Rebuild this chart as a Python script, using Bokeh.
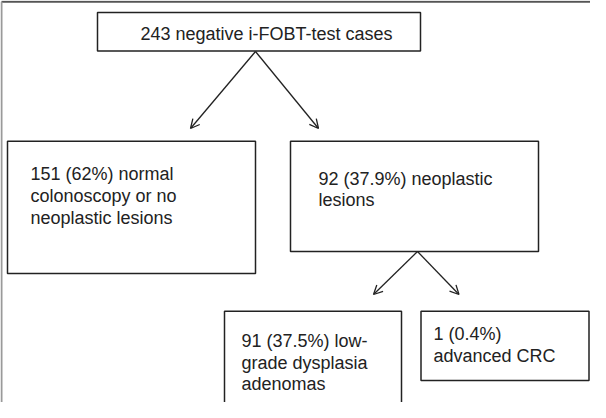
from bokeh.plotting import figure
from bokeh.models import Range1d, Arrow, OpenHead, ColumnDataSource
from bokeh.core.properties import value
from bokeh.embed import file_html
from bokeh.resources import INLINE

# ---- data (flowchart content) ----
node_ids = ["root", "normal", "neo", "low", "crc"]
node_counts = [243, 151, 92, 91, 1]
node_pcts = ["", "62%", "37.9%", "37.5%", "0.4%"]
node_lines = [
    ["243 negative i-FOBT-test cases"],
    ["151 (62%) normal", "colonoscopy or no", "neoplastic lesions"],
    ["92 (37.9%) neoplastic", "lesions"],
    ["91 (37.5%) low-", "grade dysplasia", "adenomas"],
    ["1 (0.4%)", "advanced CRC"],
]
edges = [("root", "normal"), ("root", "neo"), ("neo", "low"), ("neo", "crc")]

# ---- layout (page pixel coordinates, y downwards) ----
box_geom = {  # left, right, top, bottom
    "root": (105, 428, 20, 58.5),
    "normal": (15, 263, 148.7, 281),
    "neo": (298, 546, 148.7, 259),
    "low": (232, 409, 318.7, 440),
    "crc": (428.5, 596.5, 318.7, 388),
}
text_anchor = {
    "root": (148, 41),
    "normal": (38, 181.7),
    "neo": (326, 186),
    "low": (249, 348.5),
    "crc": (441, 341.5),
}
edge_geom = {
    ("root", "normal"): (263, 59, 198, 136),
    ("root", "neo"): (263, 59, 326, 136),
    ("neo", "low"): (425, 259, 381, 302),
    ("neo", "crc"): (425, 259, 466.5, 302),
}
LINE_STEP = 21.7

W, H = 590, 402
p = figure(width=W, height=H, output_backend="svg", toolbar_location=None,
           x_range=Range1d(8, 8 + W), y_range=Range1d(8 + H, 8),
           min_border=0, background_fill_color="white", border_fill_color="white")
p.axis.visible = False
p.grid.visible = False
p.outline_line_color = None

# outer frame (extends past right/bottom)
p.segment(x0=[9], y0=[9.3], x1=[700], y1=[9.3], line_color="#555555", line_width=2)
p.segment(x0=[9], y0=[9.3], x1=[9], y1=[700], line_color="#9a9a9a", line_width=2)

# boxes
src = ColumnDataSource(dict(
    left=[box_geom[n][0] for n in node_ids],
    right=[box_geom[n][1] for n in node_ids],
    top=[box_geom[n][2] for n in node_ids],
    bottom=[box_geom[n][3] for n in node_ids],
))
p.quad(left="left", right="right", top="top", bottom="bottom", source=src,
       fill_color="white", line_color="#222222", line_width=1.5)

# texts
tx, ty, tt = [], [], []
for n, lines in zip(node_ids, node_lines):
    x0, y0 = text_anchor[n]
    for i, line in enumerate(lines):
        tx.append(x0)
        ty.append(y0 + i * LINE_STEP)
        tt.append(line)
p.text(x=tx, y=ty, text=tt, text_font=value("Liberation Sans"), text_font_size="18px",
       text_color="#222222", text_align="left", text_baseline="middle")

# arrows
for e in edges:
    xs, ys, xe, ye = edge_geom[e]
    p.add_layout(Arrow(end=OpenHead(size=9, line_color="#222222", line_width=1.3),
                       x_start=xs, y_start=ys, x_end=xe, y_end=ye,
                       line_color="#222222", line_width=1.3))

open("out.html", "w").write(file_html(p, INLINE))
